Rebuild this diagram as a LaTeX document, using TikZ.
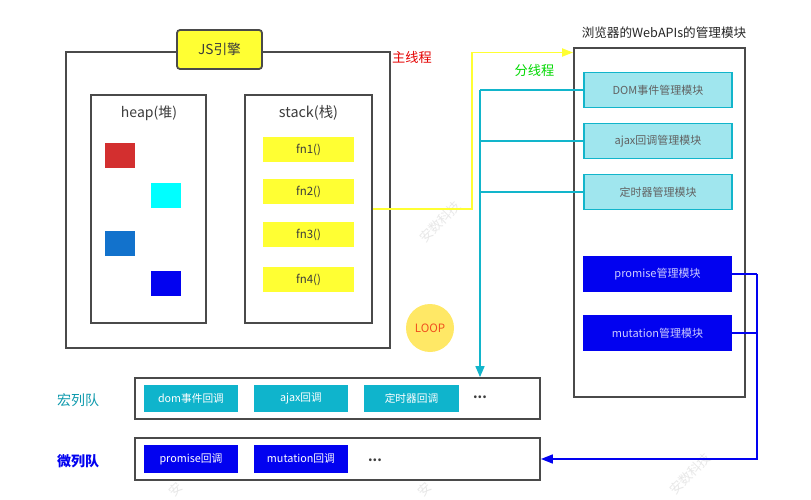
\documentclass[tikz,border=0pt]{standalone}
\usepackage{fontspec}
\setmainfont{Noto Sans CJK SC}
\usetikzlibrary{arrows.meta,calc}
\definecolor{boxline}{HTML}{4A4A4A}
\definecolor{txt}{HTML}{3C3C3C}
\definecolor{teal1}{HTML}{12B5CB}
\definecolor{tealfill}{HTML}{A0E6EE}
\definecolor{tealq}{HTML}{0FB4CC}
\definecolor{bluem}{HTML}{0202F0}
\definecolor{yel}{HTML}{FFFF33}
\definecolor{swred}{HTML}{D32F2F}
\definecolor{swcyan}{HTML}{00FFFF}
\definecolor{swblue}{HTML}{1272CC}
\definecolor{loopfill}{HTML}{FFE866}
\definecolor{looptxt}{HTML}{F0501E}
\tikzset{
 frame/.style={draw=boxline,line width=1.8pt,fill=white,inner sep=0pt,minimum width=#1},
 block/.style n args={3}{fill=#3,inner sep=0pt,minimum width=#1,minimum height=#2,text=txt,font=\fontsize{11}{13}\selectfont},
 fnbox/.style={block={91pt}{25pt}{yel},font=\fontsize{11.5}{13}\selectfont},
 tealbox/.style={block={148pt}{35pt}{tealfill},draw=teal1,line width=1.2pt,text=black!62},
 bluebox/.style={block={149pt}{36pt}{bluem},text=white!80!blue},
 qteal/.style={block={94pt}{27pt}{tealq},text=white,font=\fontsize{10.7}{13}\selectfont},
 qblue/.style={block={94pt}{28pt}{bluem},text=white,font=\fontsize{10.8}{13}\selectfont},
 swatch/.style={inner sep=0pt,minimum width=30pt,minimum height=25pt,fill=#1},
 lab/.style={font=\fontsize{13.2}{15}\selectfont,inner sep=0pt},
 wm/.style={rotate=45,text=black!9,font=\fontsize{13}{15}\selectfont,inner sep=0pt},
 dotsn/.style={inner sep=0pt,text=txt,font=\fontsize{13}{13}\selectfont\bfseries},
 yline/.style={draw=yel,line width=1.8pt},
 tline/.style={draw=teal1,line width=1.6pt},
 bline/.style={draw=bluem,line width=1.6pt},
}
\begin{document}
\begin{tikzpicture}[x=1pt,y=-1pt]
\useasboundingbox (0,0) rectangle (811,500);
\fill[white] (0,0) rectangle (811,500);
% watermarks
\node[wm] (w1) at (440,222) {安数科技};
\node[wm] (w2) at (176,489) {安};
\node[wm] (w3) at (425,489) {安};
\node[wm] (w4) at (690,474) {安数科技};
% main thread
\node[frame=324pt,minimum height=296pt] (main) at (228,200) {};
\node[draw=boxline,line width=1.8pt,fill=yel,rounded corners=3pt,inner sep=0pt,minimum width=85pt,minimum height=39pt,text=txt,font=\fontsize{13.7}{15}\selectfont] (engine) at (219.5,49.5) {JS引擎};
\node[frame=115pt,minimum height=228pt] (heap) at (148.5,209) {};
\node[frame=127pt,minimum height=228pt] (stack) at (308.5,209) {};
\node[lab,text=txt,font=\fontsize{14}{16}\selectfont] (heapt) at (149,113) {heap(堆)};
\node[lab,text=txt,font=\fontsize{14.4}{16}\selectfont] (stackt) at (308.5,113) {stack(栈)};
\node[swatch=swred] (s1) at (120,155.5) {};
\node[swatch=swcyan] (s2) at (166,195.5) {};
\node[swatch=swblue] (s3) at (120,243.5) {};
\node[swatch=bluem] (s4) at (166,283.5) {};
\node[fnbox] (f1) at (308.5,149.5) {fn1()};
\node[fnbox] (f2) at (308.5,191.5) {fn2()};
\node[fnbox] (f3) at (308.5,234.5) {fn3()};
\node[fnbox] (f4) at (308.5,279.5) {fn4()};
\node[lab,text=red!90!black] (mt) at (412,57) {主线程};
\node[lab,text=green!85!black] (wt) at (534.5,70) {分线程};
% web apis
\node[lab,text=black!85,font=\fontsize{12.6}{15}\selectfont] (apit) at (664,33) {浏览器的WebAPIs的管理模块};
\node[frame=171pt,minimum height=349pt] (api) at (659.5,222.5) {};
\node[tealbox] (dom) at (658,90) {DOM事件管理模块};
\node[tealbox] (ajax) at (658,141) {ajax回调管理模块};
\node[tealbox] (timer) at (658,192) {定时器管理模块};
\node[bluebox] (prom) at (657.5,274) {promise管理模块};
\node[bluebox] (mut) at (657.5,333) {mutation管理模块};
% loop
\node[circle,fill=loopfill,inner sep=0pt,minimum size=48pt,text=looptxt,font=\fontsize{11.5}{13}\selectfont] (loop) at (430,328) {LOOP};
% queues
\node[lab,text=teal1!85!black,font=\fontsize{14}{16}\selectfont] (ql1) at (78,400) {宏列队};
\node[lab,text=bluem,font=\fontsize{14}{16}\selectfont\bfseries] (ql2) at (78,461) {微列队};
\node[frame=405pt,minimum height=41pt] (q1) at (337.5,398.5) {};
\node[frame=405pt,minimum height=42pt] (q2) at (337.5,459) {};
\node[qteal] (d1) at (191,398.5) {dom事件回调};
\node[qteal] (d2) at (301,398.5) {ajax回调};
\node[qteal,minimum width=95pt] (d3) at (411.5,398.5) {定时器回调};
\node[qblue] (p1) at (191,459) {promise回调};
\node[qblue] (p2) at (301,459) {mutation回调};
\node[dotsn] (dots1) at (480,397) {...};
\node[dotsn] (dots2) at (375,460) {...};
% connectors
\coordinate (yc) at (472,209);
\coordinate (ytop) at (472,52.5);
\draw[yline,-{Triangle[length=11pt,width=8pt]}] (stack.east) -- (yc) -- (ytop) -- (ytop -| api.west);
\coordinate (tc) at (480,90);
\coordinate (tb) at (480,141);
\coordinate (tt) at (480,192);
\draw[tline] (dom.west) -- (tc);
\draw[tline] (ajax.west) -- (tb);
\draw[tline] (timer.west) -- (tt);
\draw[tline,-{Triangle[length=11pt,width=9pt]}] (tc) -- (tc |- q1.north);
\coordinate (bc) at (757,274);
\draw[bline] (prom.east) -- (bc);
\draw[bline] (mut.east) -- (mut.east -| bc);
\coordinate (bd) at (757,459);
\draw[bline,-{Triangle[length=12pt,width=9pt]}] (bc) -- (bd) -- (q2.east);
\end{tikzpicture}
\end{document}
